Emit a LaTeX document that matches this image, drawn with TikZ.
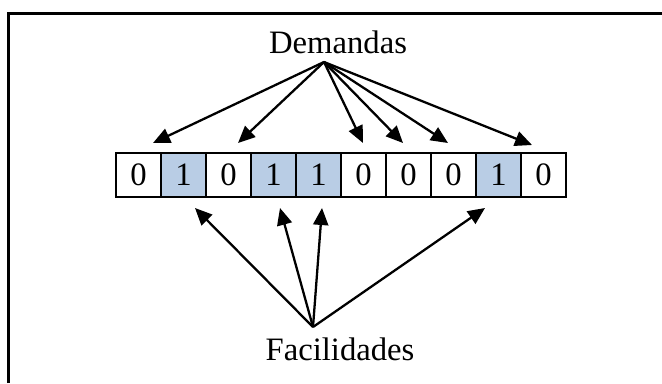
\documentclass[tikz,border=0pt]{standalone}
\usepackage{fontspec}
\setmainfont{Liberation Serif}
\usetikzlibrary{arrows.meta}

\definecolor{facblue}{RGB}{185,205,229}

\tikzset{
  cell/.style={draw, line width=1.4pt, minimum width=0.9cm, minimum height=0.88cm, inner sep=0pt, outer sep=0pt},
  link/.style={line width=1.3pt, -{Triangle[length=0.34cm,width=0.3cm]}}
}

\begin{document}
\begin{tikzpicture}[x=0.02cm, y=-0.02cm, font=\fontsize{18.6}{22}\selectfont]
\useasboundingbox (0,0) rectangle (662,383);

% frame, only top and left edge
\draw [line width=1.3pt] (8.5,383) -- (8.5,13.5) -- (662,13.5);

% the vector
\foreach \v/\fc [count=\i from 0] in {0/white,1/facblue,0/white,1/facblue,1/facblue,0/white,0/white,0/white,1/facblue,0/white}
  \node [cell, fill=\fc] (c\i) at (138.5+45*\i,175) {\v};

\node [anchor=base] (dem) at (338,53) {Demandas};
\node [anchor=base] (fac) at (340,360) {Facilidades};

\coordinate (dsrc) at (324,62);
\coordinate (fsrc) at (313,327);

% demands go to the zeros
\foreach \n/\x/\y in {0/153/143, 2/238/143, 5/363/143, 6/403/143, 7/448/143, 9/532/145}
  \coordinate (d\n) at (\x,\y);
\foreach \n in {0,2,5,6,7,9}
  \draw [link] (dsrc) -- (d\n);

% facilities go to the ones
\foreach \n/\x in {1/195, 3/280, 4/322, 8/485}
  \coordinate (f\n) at (\x,208);
\foreach \n in {1,3,4,8}
  \draw [link] (fsrc) -- (f\n);

\end{tikzpicture}
\end{document}
